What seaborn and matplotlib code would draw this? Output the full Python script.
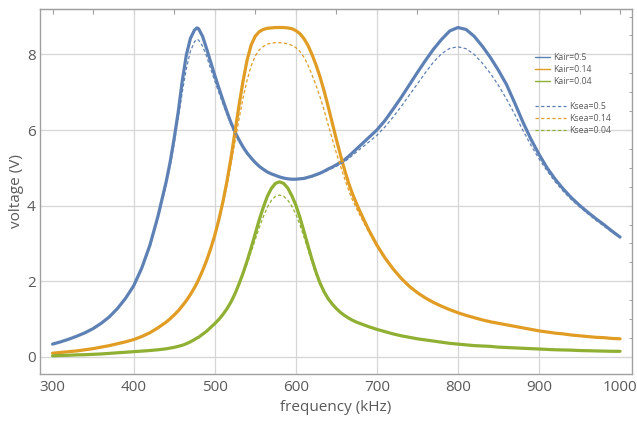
import matplotlib
matplotlib.use("Agg")
import matplotlib.pyplot as plt
from matplotlib.lines import Line2D
from matplotlib.ticker import MultipleLocator, NullFormatter
import seaborn as sns
import pandas as pd

# frequency samples (kHz)
freq = [
    300, 310, 320, 330, 340, 350, 360, 370, 380, 390, 400,
    410, 420, 430, 440, 445, 450, 455, 460, 465, 470,
    475, 478, 480, 485, 490, 495, 500, 505, 510, 515, 520,
    525, 530, 535, 540, 545, 550, 555, 560, 565, 570,
    575, 580, 585, 590, 595, 600, 605, 610, 615, 620,
    625, 630, 635, 640, 645, 650, 655, 660, 665, 670,
    675, 680, 690, 700, 710, 720, 730, 740, 750, 760,
    770, 780, 790, 800, 810, 820, 830, 840, 850, 860,
    870, 880, 890, 900, 910, 920, 930, 940, 950, 960,
    970, 980, 990, 1000,
]

# voltage (V), coupling 0.5 in air
kair_05 = [
    0.34, 0.40, 0.47, 0.55, 0.64, 0.75, 0.89, 1.06, 1.28, 1.55, 1.88,
    2.35, 2.95, 3.72, 4.62, 5.15, 5.78, 6.48, 7.30, 7.98, 8.42,
    8.64, 8.70, 8.68, 8.48, 8.15, 7.80, 7.45, 7.12, 6.80, 6.49, 6.20,
    5.95, 5.74, 5.55, 5.39, 5.26, 5.14, 5.04, 4.96, 4.89, 4.84,
    4.80, 4.76, 4.73, 4.71, 4.70, 4.70, 4.71, 4.72, 4.75, 4.78,
    4.82, 4.86, 4.91, 4.97, 5.02, 5.08, 5.14, 5.21, 5.30, 5.40,
    5.50, 5.60, 5.80, 6.00, 6.25, 6.55, 6.86, 7.19, 7.52, 7.84,
    8.14, 8.40, 8.62, 8.71, 8.66, 8.48, 8.22, 7.92, 7.58, 7.20,
    6.72, 6.22, 5.76, 5.36, 5.00, 4.70, 4.44, 4.21, 4.01, 3.83,
    3.66, 3.50, 3.33, 3.17,
]

# voltage (V), coupling 0.14 in air
kair_014 = [
    0.10, 0.12, 0.14, 0.16, 0.19, 0.22, 0.26, 0.30, 0.35, 0.40, 0.46,
    0.54, 0.64, 0.77, 0.92, 1.01, 1.11, 1.22, 1.35, 1.49, 1.65,
    1.83, 1.95, 2.04, 2.28, 2.55, 2.86, 3.21, 3.62, 4.09, 4.63, 5.25,
    5.95, 6.65, 7.30, 7.85, 8.25, 8.48, 8.60, 8.66, 8.69, 8.70,
    8.71, 8.71, 8.71, 8.70, 8.68, 8.63, 8.55, 8.42, 8.24, 8.00,
    7.72, 7.40, 7.03, 6.62, 6.19, 5.76, 5.35, 4.96, 4.61, 4.31,
    4.05, 3.81, 3.36, 2.96, 2.62, 2.33, 2.08, 1.87, 1.70, 1.56,
    1.44, 1.34, 1.25, 1.17, 1.10, 1.04, 0.98, 0.93, 0.89, 0.85,
    0.81, 0.77, 0.73, 0.69, 0.66, 0.63, 0.61, 0.58, 0.56, 0.54,
    0.52, 0.51, 0.49, 0.48,
]

# voltage (V), coupling 0.04 in air
kair_004 = [
    0.03, 0.04, 0.045, 0.055, 0.06, 0.07, 0.08, 0.095, 0.11, 0.125, 0.14,
    0.155, 0.17, 0.19, 0.215, 0.235, 0.255, 0.28, 0.31, 0.35, 0.40,
    0.46, 0.50, 0.52, 0.60, 0.68, 0.78, 0.88, 0.99, 1.12, 1.27, 1.45,
    1.67, 1.93, 2.22, 2.54, 2.89, 3.26, 3.63, 3.96, 4.25, 4.46,
    4.59, 4.63, 4.59, 4.47, 4.27, 4.02, 3.70, 3.33, 2.95, 2.58,
    2.24, 1.95, 1.72, 1.54, 1.40, 1.28, 1.18, 1.10, 1.03, 0.97,
    0.92, 0.88, 0.80, 0.73, 0.67, 0.61, 0.56, 0.52, 0.48, 0.45,
    0.42, 0.39, 0.36, 0.34, 0.32, 0.30, 0.29, 0.28, 0.26, 0.25,
    0.24, 0.23, 0.22, 0.21, 0.20, 0.19, 0.185, 0.18, 0.17, 0.165,
    0.16, 0.155, 0.15, 0.15,
]

# voltage (V), coupling 0.5 in sea water
ksea_05 = [
    0.34, 0.40, 0.47, 0.55, 0.64, 0.75, 0.89, 1.06, 1.27, 1.54, 1.86,
    2.32, 2.91, 3.66, 4.53, 5.04, 5.64, 6.30, 7.00, 7.62, 8.08,
    8.33, 8.40, 8.38, 8.22, 7.95, 7.62, 7.30, 7.00, 6.70, 6.41, 6.14,
    5.90, 5.70, 5.52, 5.37, 5.24, 5.13, 5.03, 4.95, 4.88, 4.83,
    4.79, 4.75, 4.72, 4.70, 4.69, 4.69, 4.70, 4.71, 4.73, 4.76,
    4.80, 4.84, 4.89, 4.94, 4.99, 5.04, 5.10, 5.16, 5.24, 5.33,
    5.42, 5.51, 5.68, 5.86, 6.08, 6.34, 6.62, 6.92, 7.22, 7.52,
    7.80, 8.02, 8.16, 8.20, 8.15, 8.00, 7.77, 7.50, 7.18, 6.82,
    6.42, 6.00, 5.60, 5.24, 4.92, 4.63, 4.38, 4.16, 3.97, 3.79,
    3.62, 3.46, 3.30, 3.15,
]

# voltage (V), coupling 0.14 in sea water
ksea_014 = [
    0.10, 0.12, 0.14, 0.16, 0.19, 0.22, 0.26, 0.30, 0.35, 0.40, 0.46,
    0.54, 0.64, 0.77, 0.92, 1.01, 1.11, 1.22, 1.35, 1.49, 1.65,
    1.83, 1.95, 2.04, 2.27, 2.53, 2.83, 3.18, 3.57, 4.02, 4.52, 5.08,
    5.68, 6.28, 6.85, 7.32, 7.70, 7.96, 8.12, 8.21, 8.27, 8.30,
    8.31, 8.31, 8.30, 8.28, 8.24, 8.18, 8.08, 7.93, 7.72, 7.46,
    7.18, 6.87, 6.52, 6.14, 5.76, 5.40, 5.06, 4.73, 4.42, 4.15,
    3.92, 3.71, 3.30, 2.92, 2.60, 2.32, 2.07, 1.86, 1.69, 1.55,
    1.44, 1.34, 1.25, 1.17, 1.10, 1.04, 0.98, 0.93, 0.89, 0.85,
    0.81, 0.77, 0.73, 0.69, 0.66, 0.63, 0.61, 0.58, 0.56, 0.54,
    0.52, 0.51, 0.49, 0.48,
]

# voltage (V), coupling 0.04 in sea water
ksea_004 = [
    0.03, 0.04, 0.045, 0.055, 0.06, 0.07, 0.08, 0.095, 0.11, 0.125, 0.14,
    0.155, 0.17, 0.19, 0.215, 0.235, 0.255, 0.28, 0.31, 0.35, 0.40,
    0.46, 0.50, 0.52, 0.60, 0.68, 0.78, 0.88, 0.99, 1.11, 1.26, 1.44,
    1.66, 1.91, 2.18, 2.47, 2.78, 3.10, 3.42, 3.71, 3.96, 4.14,
    4.25, 4.28, 4.25, 4.15, 3.99, 3.78, 3.50, 3.18, 2.84, 2.50,
    2.18, 1.91, 1.69, 1.52, 1.38, 1.27, 1.17, 1.09, 1.02, 0.96,
    0.92, 0.88, 0.80, 0.73, 0.67, 0.61, 0.56, 0.52, 0.48, 0.45,
    0.42, 0.39, 0.36, 0.34, 0.32, 0.30, 0.29, 0.28, 0.26, 0.25,
    0.24, 0.23, 0.22, 0.21, 0.20, 0.19, 0.185, 0.18, 0.17, 0.165,
    0.16, 0.155, 0.15, 0.15,
]

air_labels = ["Kair=0.5", "Kair=0.14", "Kair=0.04"]
sea_labels = ["Ksea=0.5", "Ksea=0.14", "Ksea=0.04"]
colors = ["#5E81B5", "#E19C24", "#8FB032"]

air_series = [kair_05, kair_014, kair_004]
sea_series = [ksea_05, ksea_014, ksea_004]

sns.set_style("white")
plt.rcParams["font.family"] = ["Open Sans", "DejaVu Sans"]

text_gray = "#5a5a5a"
frame_gray = "#a0a0a0"
dash = (0, (2.6, 1.9))

fig = plt.figure(figsize=(6.37, 4.28), dpi=100)
ax = fig.add_axes([0.0628, 0.1262, 0.9294, 0.8528])

frames = []
for lab, vals in zip(air_labels + sea_labels, air_series + sea_series):
    frames.append(pd.DataFrame({"freq": freq, "voltage": vals, "series": lab}))
df = pd.concat(frames, ignore_index=True)

# solid curves (air)
for lab, col in zip(air_labels, colors):
    sns.lineplot(data=df[df["series"] == lab], x="freq", y="voltage",
                 color=col, linewidth=2.3, ax=ax, legend=False,
                 solid_capstyle="round", solid_joinstyle="round", zorder=3)
# dashed curves (sea water)
for lab, col in zip(sea_labels, colors):
    sns.lineplot(data=df[df["series"] == lab], x="freq", y="voltage",
                 color=col, linewidth=0.9, ax=ax, legend=False, zorder=4)
for line in ax.get_lines()[3:6]:
    line.set_linestyle(dash)

ax.set_xlim(284.5, 1014.8)
ax.set_ylim(-0.45, 9.2)

# grid
for gx in range(400, 1000, 100):
    ax.axvline(gx, color="#d6d6d6", lw=0.9, zorder=1)
for gy in range(0, 10, 2):
    ax.axhline(gy, color="#d6d6d6", lw=0.9, zorder=1)

# frame and ticks
for sp in ax.spines.values():
    sp.set_color(frame_gray)
    sp.set_linewidth(1.0)

ax.xaxis.set_major_locator(MultipleLocator(100))
ax.xaxis.set_minor_locator(MultipleLocator(20))
ax.yaxis.set_major_locator(MultipleLocator(2))
ax.yaxis.set_minor_locator(MultipleLocator(0.5))
ax.tick_params(axis="both", which="both", direction="in", color=frame_gray,
               labelcolor=text_gray, labelsize=11)
ax.tick_params(axis="both", which="major", length=4, width=0.8)
ax.tick_params(axis="both", which="minor", length=2.5, width=0.7)
ax.tick_params(axis="y", which="both", right=True, pad=3)
ax.tick_params(axis="x", which="both", top=False, pad=4)

top = ax.secondary_xaxis("top")
top.xaxis.set_major_locator(MultipleLocator(50))
top.xaxis.set_major_formatter(NullFormatter())
top.tick_params(direction="in", length=3.5, width=0.8, color=frame_gray)
top.spines["top"].set_color(frame_gray)

ax.set_xlabel("frequency (kHz)", fontsize=11, color=text_gray, labelpad=4)
ax.set_ylabel("voltage (V)", fontsize=11, color=text_gray, labelpad=2)

# legends
air_handles = [Line2D([], [], color=c, lw=1.0) for c in colors]
sea_handles = [Line2D([], [], color=c, lw=0.9, linestyle=dash) for c in colors]

leg1 = ax.legend(air_handles, air_labels, loc="upper left",
                 bbox_to_anchor=(0.84, 0.877), bbox_transform=fig.transFigure,
                 frameon=False, borderpad=0, borderaxespad=0, fontsize=6.3,
                 handlelength=1.75, handletextpad=0.35, labelspacing=0.35,
                 labelcolor=text_gray)
ax.add_artist(leg1)
ax.legend(sea_handles, sea_labels, loc="upper left",
          bbox_to_anchor=(0.84, 0.761), bbox_transform=fig.transFigure,
          frameon=False, borderpad=0, borderaxespad=0, fontsize=6.3,
          handlelength=3.5, handletextpad=0.35, labelspacing=0.35,
          labelcolor=text_gray)

fig.savefig("out.png", dpi=100)
